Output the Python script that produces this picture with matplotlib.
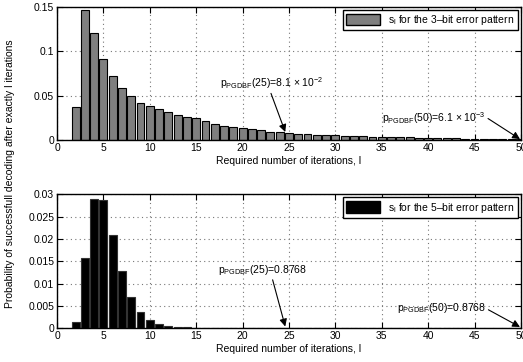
import numpy as np
import matplotlib
matplotlib.use('Agg')
import matplotlib.pyplot as plt
from matplotlib.patches import Patch

plt.rcParams['font.family'] = ['Liberation Sans', 'DejaVu Sans']
plt.rcParams['mathtext.fontset'] = 'custom'
plt.rcParams['mathtext.rm'] = 'Liberation Sans'
plt.rcParams['mathtext.it'] = 'Liberation Sans:italic'
plt.rcParams['font.size'] = 7.5

## -- Data
iters = np.arange(2, 51)

s_3bit = [0.0375, 0.146, 0.121, 0.091, 0.0717, 0.0589, 0.049, 0.0413, 0.0386,
          0.0349, 0.0312, 0.0281, 0.0255, 0.0242, 0.0213, 0.018, 0.0161, 0.0146,
          0.0132, 0.0124, 0.0110, 0.0095, 0.0090, 0.0082, 0.0071, 0.0067, 0.0060,
          0.0056, 0.0052, 0.0049, 0.0045, 0.0042, 0.0039, 0.0036, 0.0033, 0.0030,
          0.0028, 0.0026, 0.0024, 0.0022, 0.0020, 0.0018, 0.0016, 0.0015, 0.0013,
          0.0012, 0.0011, 0.0010, 0.0009]

s_5bit = [0.0015, 0.0158, 0.0289, 0.0287, 0.0208, 0.0128, 0.0069, 0.0036, 0.0018,
          0.0009, 0.0005, 0.0002, 0.0002, 0.0001, 0.0001, 0.00005, 0.00003, 0.00002,
          0.00001] + [0.0] * 30

xticks = np.arange(0, 51, 5)
yticks_top = [0, 0.05, 0.1, 0.15]
yticks_bot = [0, 0.005, 0.01, 0.015, 0.02, 0.025, 0.03]

fig = plt.figure(figsize=(5.23, 3.62), dpi=100)
ax1 = fig.add_axes([0.109, 0.6133, 0.887, 0.368])
ax2 = fig.add_axes([0.109, 0.0931, 0.887, 0.370])


def style(ax, yticks, ymax):
	ax.set_xlim(0, 50)
	ax.set_ylim(0, ymax)
	ax.set_xticks(xticks)
	ax.set_yticks(yticks)
	ax.set_yticklabels([('%g' % v) for v in yticks])
	ax.tick_params(direction='in', top=True, right=True, length=4, width=0.8, pad=2)
	ax.grid(True, linestyle=(0, (1, 3)), color='#777777', linewidth=0.8)
	ax.set_axisbelow(True)
	for sp in ax.spines.values():
		sp.set_linewidth(1.0)
	ax.set_xlabel('Required number of iterations, l', labelpad=2)


arrow = dict(arrowstyle='-|>', color='black', lw=0.8, shrinkA=0, shrinkB=0,
             mutation_scale=11)
leg_kw = dict(loc='upper right', fancybox=False, edgecolor='black', framealpha=1,
              handlelength=3.3, handleheight=1.3, borderaxespad=0.3, borderpad=0.3)

ax1.bar(iters, s_3bit, width=0.85, color='#7f7f7f', edgecolor='black', linewidth=0.8)
style(ax1, yticks_top, 0.15)
ax1.legend(handles=[Patch(facecolor='#7f7f7f', edgecolor='black')],
           labels=[r's$_{\mathrm{l}}$ for the 3–bit error pattern'], **leg_kw)
ax1.annotate(r'p$_{\mathrm{PGDBF}}$(25)=8.1 $\times$ 10$^{-2}$', xy=(24.6, 0.009),
             xytext=(17.6, 0.0645), va='center',
             arrowprops=dict(arrow, relpos=(0.48, 0)))
ax1.annotate(r'p$_{\mathrm{PGDBF}}$(50)=6.1 $\times$ 10$^{-3}$', xy=(49.9, 0.001),
             xytext=(35.0, 0.0244), va='center',
             arrowprops=dict(arrow, relpos=(1, 0.6)))

ax2.bar(iters, s_5bit, width=0.85, color='black', edgecolor='#333333', linewidth=0.8)
style(ax2, yticks_bot, 0.03)
ax2.legend(handles=[Patch(facecolor='black', edgecolor='black')],
           labels=[r's$_{\mathrm{l}}$ for the 5–bit error pattern'], **leg_kw)
ax2.annotate(r'p$_{\mathrm{PGDBF}}$(25)=0.8768', xy=(24.6, 0.0004),
             xytext=(17.4, 0.01305), va='center',
             arrowprops=dict(arrow, relpos=(0.6, 0)))
ax2.annotate(r'p$_{\mathrm{PGDBF}}$(50)=0.8768', xy=(49.9, 0.0003),
             xytext=(36.6, 0.0045), va='center',
             arrowprops=dict(arrow, relpos=(0.97, 0.6)))

fig.text(0.02, 0.52, 'Probability of successfull decoding after exactly l iterations',
         rotation=90, ha='center', va='center')

plt.savefig('out.png', dpi=100)
